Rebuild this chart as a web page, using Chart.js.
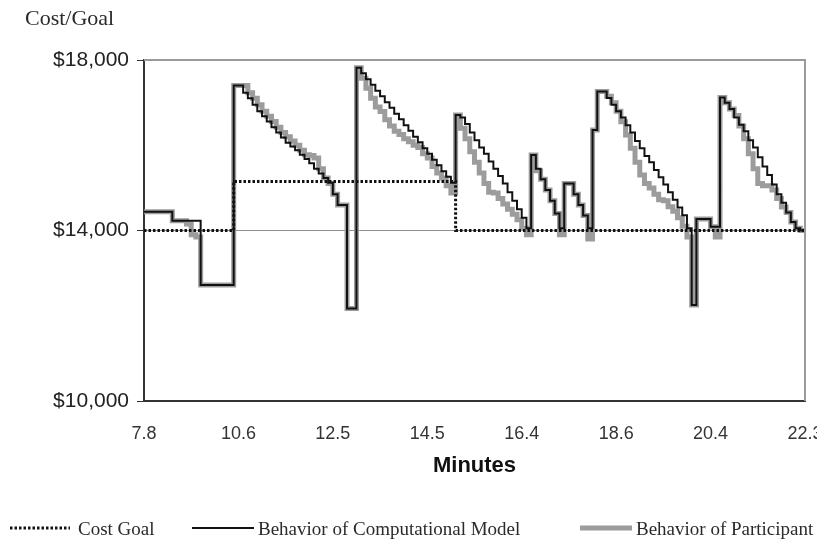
<!DOCTYPE html>
<html>
<head>
<meta charset="utf-8">
<script src="https://cdn.jsdelivr.net/npm/chart.js@4/dist/chart.umd.min.js"></script>
<style>
    html, body { margin: 0; padding: 0; background: #fff; }
</style>
</head>
<body>
<canvas id="chart" width="817" height="540"></canvas>
<script>
// x axis: sample index, 20 samples between labelled ticks
const tickLabels = ['7.8', '10.6', '12.5', '14.5', '16.4', '18.6', '20.4', '22.3'];
const yTicks = [10000, 14000, 18000];

const costGoal = [
    14000, 14000, 14000, 14000, 14000, 14000, 14000, 14000, 14000, 14000,
    14000, 14000, 14000, 14000, 14000, 14000, 14000, 14000, 14000, 14000,
    15150, 15150, 15150, 15150, 15150, 15150, 15150, 15150, 15150, 15150,
    15150, 15150, 15150, 15150, 15150, 15150, 15150, 15150, 15150, 15150,
    15150, 15150, 15150, 15150, 15150, 15150, 15150, 15150, 15150, 15150,
    15150, 15150, 15150, 15150, 15150, 15150, 15150, 15150, 15150, 15150,
    15150, 15150, 15150, 15150, 15150, 15150, 15150, 14000, 14000, 14000,
    14000, 14000, 14000, 14000, 14000, 14000, 14000, 14000, 14000, 14000,
    14000, 14000, 14000, 14000, 14000, 14000, 14000, 14000, 14000, 14000,
    14000, 14000, 14000, 14000, 14000, 14000, 14000, 14000, 14000, 14000,
    14000, 14000, 14000, 14000, 14000, 14000, 14000, 14000, 14000, 14000,
    14000, 14000, 14000, 14000, 14000, 14000, 14000, 14000, 14000, 14000,
    14000, 14000, 14000, 14000, 14000, 14000, 14000, 14000, 14000, 14000,
    14000, 14000, 14000, 14000, 14000, 14000, 14000, 14000, 14000, 14000,
    14000
];

const modelCost = [
    14440, 14440, 14440, 14440, 14440, 14440, 14440, 14230, 14230, 14230,
    14230, 14230, 14230, 12720, 12720, 12720, 12720, 12720, 12720, 12720,
    17400, 17400, 17230, 17100, 16950, 16800, 16680, 16560, 16420, 16300,
    16180, 16060, 15970, 15880, 15780, 15680, 15580, 15450, 15340, 15230,
    15120, 14850, 14600, 14600, 12170, 12170, 17820, 17690, 17550, 17420,
    17280, 17150, 17010, 16880, 16740, 16610, 16470, 16340, 16200, 16070,
    15930, 15800, 15660, 15530, 15390, 15260, 15120, 16710, 16650, 16500,
    16300, 16120, 15950, 15800, 15620, 15450, 15280, 15100, 14900, 14700,
    14500, 14300, 14050, 15770, 15450, 15200, 14950, 14700, 14400, 14050,
    15100, 15100, 14850, 14600, 14350, 14050, 16360, 17260, 17260, 17110,
    16950, 16800, 16650, 16470, 16300, 16100, 15930, 15750, 15600, 15420,
    15250, 15080, 14900, 14720, 14540, 14360, 14050, 12250, 14270, 14270,
    14270, 14090, 14090, 17120, 17000, 16850, 16650, 16480, 16330, 16120,
    15950, 15720, 15500, 15300, 15080, 14850, 14650, 14420, 14200, 14050,
    14000
];

const participantCost = [
    14440, 14440, 14440, 14440, 14440, 14440, 14440, 14230, 14230, 14230,
    14150, 13900, 13850, 12720, 12720, 12720, 12720, 12720, 12720, 12720,
    17400, 17400, 17400, 17230, 17100, 16950, 16800, 16680, 16560, 16420,
    16300, 16200, 16100, 16000, 15880, 15780, 15760, 15700, 15450, 15230,
    15100, 14850, 14600, 14600, 12170, 12170, 17820, 17570, 17340, 17100,
    16900, 16790, 16600, 16450, 16330, 16250, 16150, 16080, 16000, 15950,
    15800, 15700, 15500, 15350, 15230, 15050, 14880, 16710, 16400, 16150,
    15850, 15600, 15350, 15100, 14900, 14880, 14750, 14620, 14500, 14380,
    14250, 14050, 13900, 15770, 15400, 15200, 14950, 14700, 14400, 13900,
    15100, 15100, 14850, 14600, 14350, 13800, 16360, 17260, 17260, 17150,
    17000, 16800, 16550, 16240, 15930, 15600, 15300, 15100, 15000, 14850,
    14720, 14700, 14560, 14450, 14300, 14100, 13850, 12250, 14270, 14270,
    14270, 14090, 13850, 17120, 17000, 16850, 16700, 16450, 16150, 15800,
    15450, 15100, 15050, 15050, 14950, 14750, 14550, 14420, 14200, 14050,
    14000
];

const seriesNames = ['Cost Goal', 'Behavior of Computational Model', 'Behavior of Participant'];

const toPoints = arr => arr.map((v, i) => ({ x: i, y: v }));

// frame on the right and top of the plot, legend and y caption
const extras = {
    id: 'extras',
    afterDraw(chart) {
        const ctx = chart.ctx;
        const a = chart.chartArea;
        ctx.save();
        ctx.strokeStyle = '#9a9a9a';
        ctx.lineWidth = 2;
        ctx.beginPath();
        ctx.moveTo(a.left, a.top);
        ctx.lineTo(a.right, a.top);
        ctx.lineTo(a.right, a.bottom);
        ctx.stroke();

        ctx.fillStyle = '#2a2a2a';
        ctx.font = '22px "Liberation Serif", "Times New Roman", serif';
        ctx.textBaseline = 'middle';
        ctx.fillText('Cost/Goal', 25, 19);

        const items = [
            { ds: 0, x1: 10, x2: 70, tx: 78 },
            { ds: 1, x1: 192, x2: 254, tx: 258 },
            { ds: 2, x1: 580, x2: 632, tx: 636 }
        ];
        const ly = 528;
        ctx.font = '19px "Liberation Serif", "Times New Roman", serif';
        items.forEach(it => {
            const d = chart.data.datasets[it.ds];
            ctx.strokeStyle = d.borderColor;
            ctx.lineWidth = d.borderWidth;
            ctx.setLineDash(d.borderDash || []);
            ctx.beginPath();
            ctx.moveTo(it.x1, ly);
            ctx.lineTo(it.x2, ly);
            ctx.stroke();
            ctx.setLineDash([]);
            ctx.fillStyle = '#2a2a2a';
            ctx.fillText(d.label, it.tx, ly + 2);
        });
        ctx.restore();
    }
};

new Chart(document.getElementById('chart'), {
    type: 'line',
    data: {
        datasets: [
            {
                label: seriesNames[0],
                data: toPoints(costGoal),
                borderColor: '#111',
                borderWidth: 3,
                borderDash: [2.5, 2],
                stepped: 'after',
                pointRadius: 0,
                order: 0
            },
            {
                label: seriesNames[1],
                data: toPoints(modelCost),
                borderColor: '#111',
                borderWidth: 2,
                stepped: 'after',
                pointRadius: 0,
                order: 1
            },
            {
                label: seriesNames[2],
                data: toPoints(participantCost),
                borderColor: '#9c9c9c',
                borderWidth: 5,
                stepped: 'after',
                pointRadius: 0,
                order: 2
            }
        ]
    },
    options: {
        responsive: false,
        animation: false,
        layout: { padding: { top: 60, right: 12, bottom: 0, left: 0 } },
        plugins: {
            legend: { display: false },
            tooltip: { enabled: false }
        },
        scales: {
            x: {
                type: 'linear',
                min: 0,
                max: 140,
                afterBuildTicks: s => { s.ticks = tickLabels.map((t, k) => ({ value: k * 20 })); },
                afterFit: s => { s.height = 139; s.paddingLeft = 0; s.paddingRight = 0; },
                ticks: {
                    callback: v => tickLabels[Math.round(v / 20)],
                    font: { family: '"Liberation Sans", Arial, sans-serif', size: 18 },
                    color: '#333',
                    padding: 14,
                    maxRotation: 0,
                    autoSkip: false
                },
                grid: { display: false },
                border: { color: '#333', width: 2 },
                title: {
                    display: true,
                    text: 'Minutes',
                    font: { family: '"Liberation Sans", Arial, sans-serif', size: 22, weight: 'bold' },
                    color: '#111',
                    padding: { top: 0, bottom: 61 }
                }
            },
            y: {
                min: 10000,
                max: 18000,
                afterBuildTicks: s => { s.ticks = yTicks.map(v => ({ value: v })); },
                afterFit: s => { s.width = 144; },
                ticks: {
                    callback: v => '$' + v.toLocaleString('en-US'),
                    font: { family: '"Liberation Sans", Arial, sans-serif', size: 21 },
                    color: '#222',
                    padding: 8
                },
                grid: { color: '#8f8f8f', lineWidth: 1, tickLength: 7, tickColor: '#333' },
                border: { color: '#333', width: 2 }
            }
        }
    },
    plugins: [extras]
});
</script>
</body>
</html>
